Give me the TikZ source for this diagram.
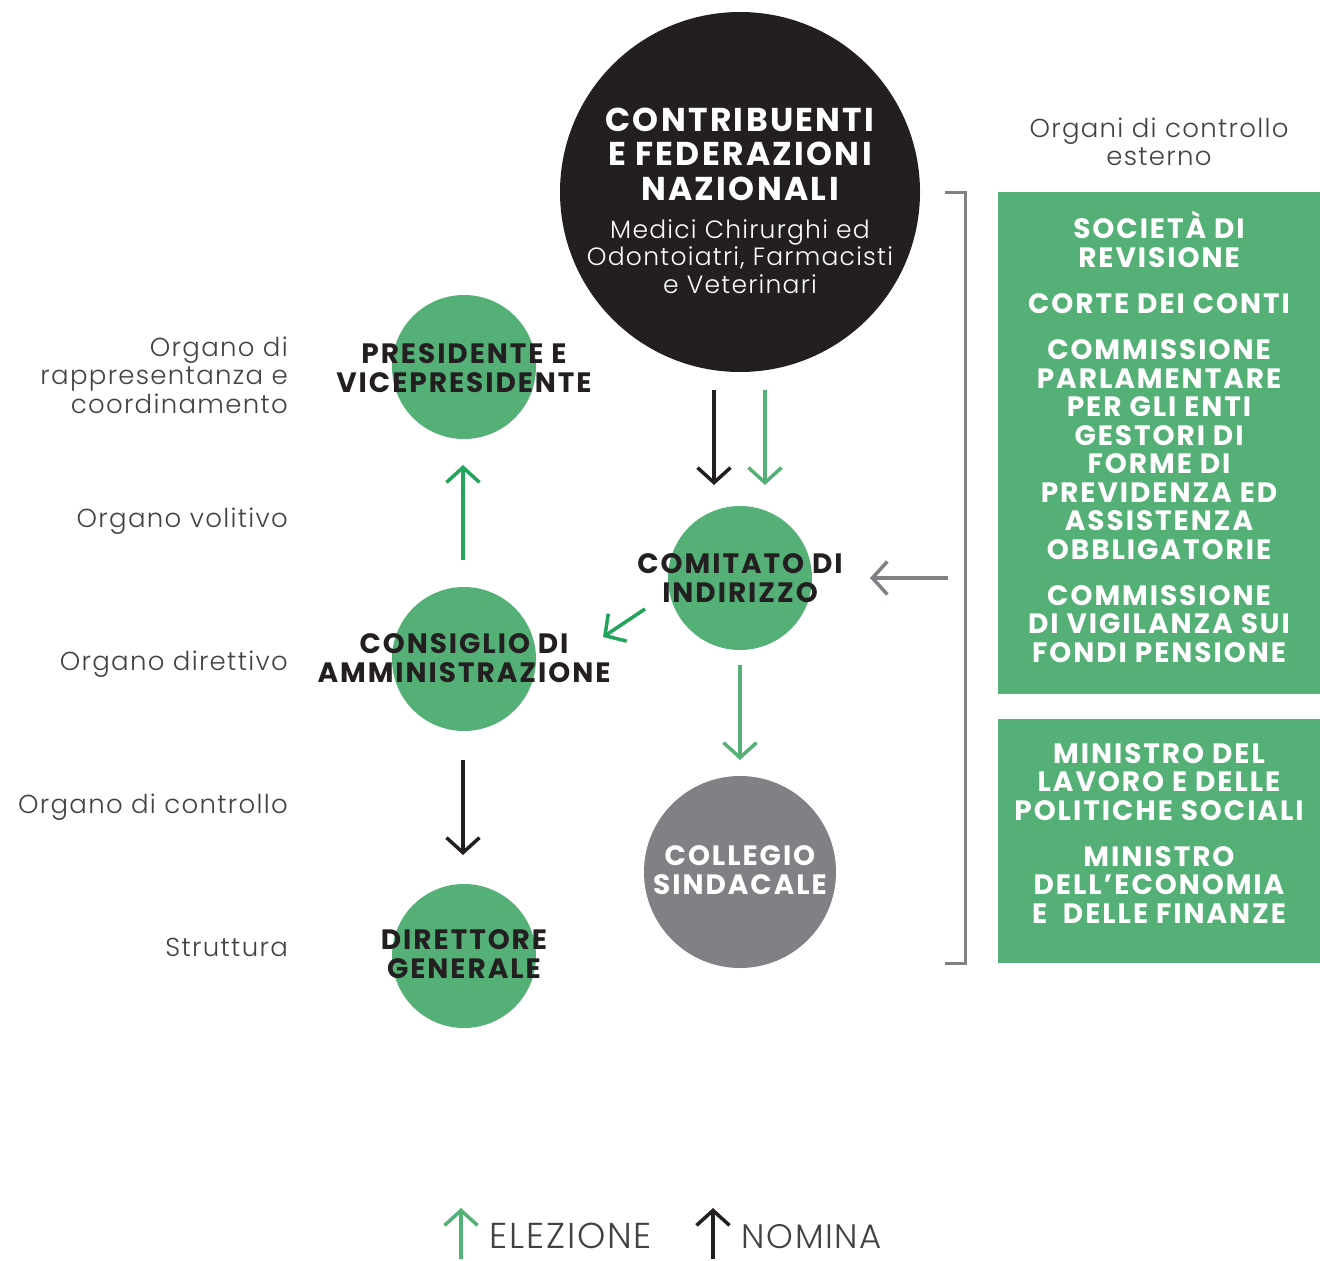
\documentclass[tikz,border=0pt]{standalone}
\usepackage{fontspec}
\setmainfont{Poppins}[BoldFont=* Bold]
\newfontfamily\lightfont{Poppins Light}[LetterSpace=5]
\newfontfamily\hb{Poppins Bold}[LetterSpace=7]
\usetikzlibrary{arrows.meta}
\definecolor{cgreen}{HTML}{55B077}
\definecolor{cbgreen}{HTML}{22A45C}
\definecolor{cblack}{HTML}{231F20}
\definecolor{cgray}{HTML}{808184}
\begin{document}
\begin{tikzpicture}[x=1pt,y=-1pt,
  disc/.style={circle,inner sep=0pt,minimum size=#1},
  btxt/.style={align=center,anchor=base,font=\hb\fontsize{28}{28.5}\selectfont},
  ltxt/.style={align=right,anchor=base east,inner sep=0pt,text=cblack!85,font=\lightfont\fontsize{26}{28.5}\selectfont},
  arr/.style={line width=3.5pt,-{Straight Barb[length=15pt,width=33pt,line width=3.5pt]}},
  ]
\useasboundingbox (0,0) rectangle (1320,1261);
% circles
\node[disc=360pt,fill=cblack] (contr) at (740,192) {};
\node[disc=144pt,fill=cgreen] (pres) at (464,367) {};
\node[disc=144pt,fill=cgreen] (comit) at (740,578) {};
\node[disc=144pt,fill=cgreen] (cons) at (464,659) {};
\node[disc=144pt,fill=cgreen] (dir) at (464,956) {};
\node[disc=192pt,fill=cgray] (coll) at (740,872) {};
% circle texts
\node[btxt,text=white,font=\hb\fontsize{33}{34.5}\selectfont] (contrT) at (740,200) {CONTRIBUENTI\\E FEDERAZIONI\\NAZIONALI};
\node[align=center,anchor=base,text=white,font=\lightfont\fontsize{25}{27.5}\selectfont] (contrS) at (740,293) {Medici Chirurghi ed\\Odontoiatri, Farmacisti\\e Veterinari};
\node[btxt,text=cblack] (presT) at (464,392) {PRESIDENTE E\\VICEPRESIDENTE};
\node[btxt,text=cblack] (comitT) at (740,602) {COMITATO DI\\INDIRIZZO};
\node[btxt,text=cblack] (consT) at (464,682) {CONSIGLIO DI\\AMMINISTRAZIONE};
\node[btxt,text=cblack] (dirT) at (464,978) {DIRETTORE\\GENERALE};
\node[btxt,text=white] (collT) at (740,894) {COLLEGIO\\SINDACALE};
% left labels
\node[ltxt] (l1) at (288,413) {Organo di\\rappresentanza e\\coordinamento};
\node[ltxt] (l2) at (288,527) {Organo volitivo};
\node[ltxt] (l3) at (288,670) {Organo direttivo};
\node[ltxt] (l4) at (288,813) {Organo di controllo};
\node[ltxt] (l5) at (288,956) {Struttura};
% right header
\node[align=center,anchor=base,text=cblack!85,font=\lightfont\fontsize{26}{28}\selectfont] (hdr) at (1159,165) {Organi di controllo\\esterno};
% right boxes
\node[fill=cgreen,anchor=north west,minimum width=322pt,minimum height=502pt,inner sep=0pt] (box1) at (998,192) {};
\node[fill=cgreen,anchor=north west,minimum width=322pt,minimum height=244pt,inner sep=0pt] (box2) at (998,719) {};
\node[btxt,text=white] (r1) at (1159,267) {SOCIETÀ DI\\REVISIONE};
\node[btxt,text=white] (r2) at (1159,313) {CORTE DEI CONTI};
\node[btxt,text=white] (r3) at (1159,559) {COMMISSIONE\\PARLAMENTARE\\PER GLI ENTI\\GESTORI DI\\FORME DI\\PREVIDENZA ED\\ASSISTENZA\\OBBLIGATORIE};
\node[btxt,text=white] (r4) at (1159,662) {COMMISSIONE\\DI VIGILANZA SUI\\FONDI PENSIONE};
\node[btxt,text=white] (r5) at (1159,820) {MINISTRO DEL\\LAVORO E DELLE\\POLITICHE SOCIALI};
\node[btxt,text=white] (r6) at (1159,923) {MINISTRO\\DELL’ECONOMIA\\E~ DELLE FINANZE};
% bracket
\coordinate (bt) at (945,192);
\coordinate (bb) at (945,963);
\draw[cgray,line width=3pt] (bt) -- ++(20,0) |- (bb);
% arrow end points
\coordinate (a1s) at (714,390); \coordinate (a1e) at (714,485);
\coordinate (a2s) at (765,390); \coordinate (a2e) at (765,485);
\coordinate (a3s) at (463,560); \coordinate (a3e) at (463,465);
\coordinate (a4s) at (645,609); \coordinate (a4e) at (603,637);
\coordinate (a5s) at (740,665); \coordinate (a5e) at (740,760);
\coordinate (a6s) at (463,760); \coordinate (a6e) at (463,855);
\coordinate (a7s) at (948,578); \coordinate (a7e) at (870,578);
\draw[arr,cblack] (a1s) -- (a1e);
\draw[arr,cgreen] (a2s) -- (a2e);
\draw[arr,cbgreen] (a3s) -- (a3e);
\draw[arr,cbgreen] (a4s) -- (a4e);
\draw[arr,cgreen] (a5s) -- (a5e);
\draw[arr,cblack] (a6s) -- (a6e);
\draw[arr,cgray] (a7s) -- (a7e);
% legend
\coordinate (g1s) at (461,1259); \coordinate (g1e) at (461,1208);
\coordinate (g2s) at (713,1259); \coordinate (g2e) at (713,1208);
\draw[arr,cgreen] (g1s) -- (g1e);
\draw[arr,cblack] (g2s) -- (g2e);
\node[anchor=base west,text=cblack!85,font=\lightfont\fontsize{36}{40}\selectfont] (lg1) at (486,1248) {ELEZIONE};
\node[anchor=base west,text=cblack!85,font=\lightfont\fontsize{34}{40}\selectfont] (lg2) at (738,1248) {NOMINA};
\end{tikzpicture}
\end{document}
